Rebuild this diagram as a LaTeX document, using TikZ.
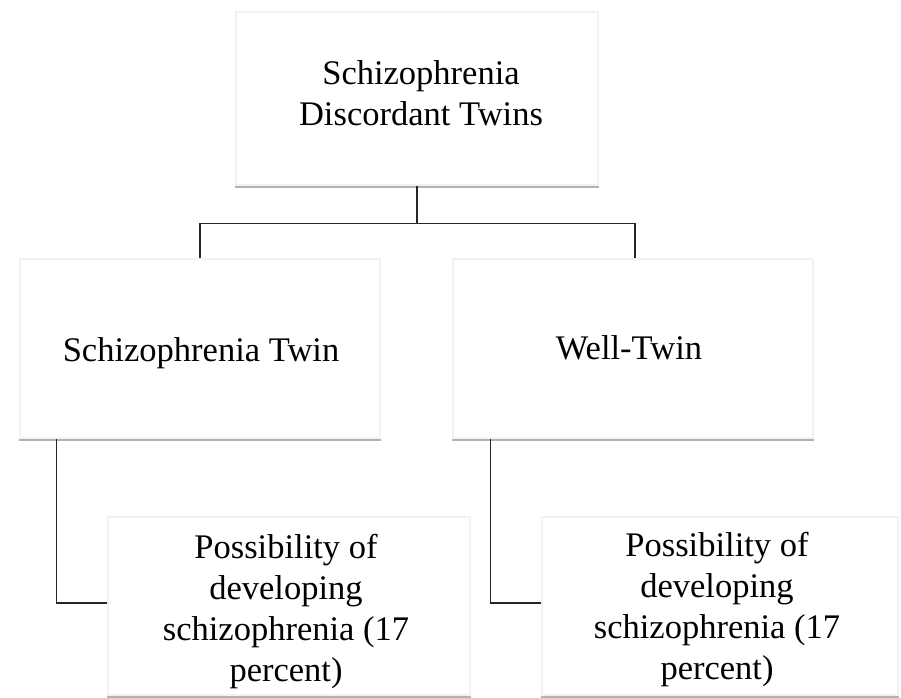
\documentclass[tikz,border=0pt]{standalone}
\usepackage{fontspec}
\setmainfont{Liberation Serif}
\usetikzlibrary{calc}
\begin{document}
\begin{tikzpicture}[x=1pt,y=-1pt,
  card/.style={draw=gray!10, line width=1.4pt, fill=white, inner sep=0pt},
  label/.style={align=center, inner sep=0pt, font=\fontsize{34.5}{41}\selectfont},
  link/.style={draw=black!85, line width=1.5pt},
  shade/.style={draw=gray!60, line width=2.4pt}]
\useasboundingbox[fill=white] (0,0) rectangle (901,697);

% boxes
\node[card, minimum width=362pt, minimum height=173pt] (top) at (417,98.5) {};
\node[card, minimum width=360pt, minimum height=179pt] (sick) at (200,348.5) {};
\node[card, minimum width=360pt, minimum height=179pt] (well) at (633,348.5) {};
\node[card, minimum width=362pt, minimum height=178pt] (sickrisk) at (289,606) {};
\node[card, minimum width=356pt, minimum height=178pt] (wellrisk) at (720,606) {};

% texts
\node[label] (toptxt) at (421,93) {Schizophrenia\\Discordant Twins};
\node[label] (sicktxt) at (201,353) {Schizophrenia Twin};
\node[label] (welltxt) at (629,348) {Well-Twin};
\node[label] (sickrisktxt) at (286,612)
  {Possibility of\\developing\\schizophrenia (17\\percent)};
\node[label] (wellrisktxt) at (717,610)
  {Possibility of\\developing\\schizophrenia (17\\percent)};

% soft lower edges
\foreach \b in {top,sick,well,sickrisk,wellrisk}
  \draw[shade] ([yshift=-1.5pt]\b.south west) -- ([yshift=-1.5pt]\b.south east);

% connectors
\coordinate (split) at ($(top.south)+(0,38)$);
\draw[link] (top.south) -- (split);
\draw[link] (sick.north) |- (split) -| ([xshift=2pt]well.north);
\draw[link] ([xshift=37pt]sick.south west) |- ([yshift=3pt]sickrisk.west);
\draw[link] ([xshift=38pt]well.south west) |- ([yshift=3pt]wellrisk.west);
\end{tikzpicture}
\end{document}
